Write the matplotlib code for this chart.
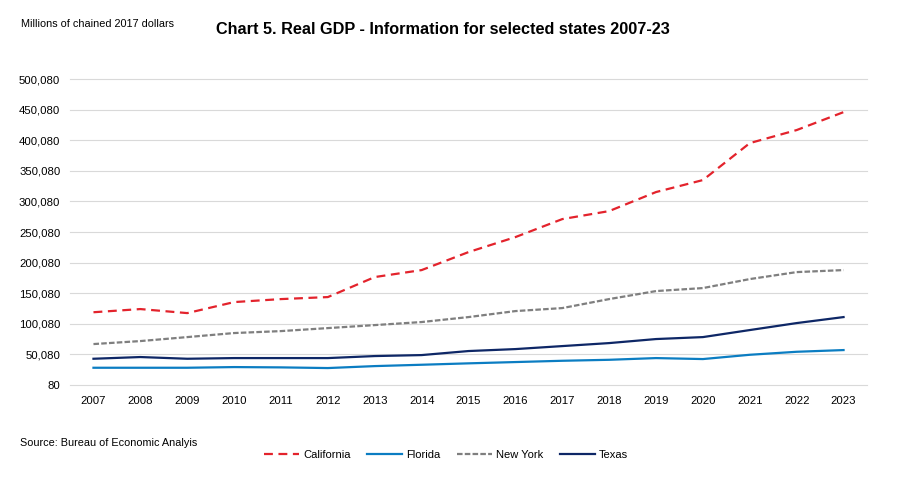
import matplotlib
matplotlib.use('Agg')
import matplotlib.pyplot as plt
import numpy as np

years = list(range(2007, 2024))
california = [119000, 124200, 117600, 135600, 140500, 143800, 176500, 187900, 217300,
              241800, 271200, 284300, 315400, 335000, 395400, 416700, 446000]
florida = [28300, 28300, 28300, 29400, 28900, 27800, 31000, 33200, 35500,
           37600, 39700, 41300, 44100, 42500, 49500, 54400, 57200]
new_york = [67000, 71900, 78400, 85000, 88200, 93100, 98000, 103000, 111100,
            120900, 125800, 140500, 153600, 158500, 173200, 184600, 187900]
texas = [43000, 45800, 43000, 44100, 44100, 44100, 47400, 49000, 55600,
         58800, 63700, 68600, 75200, 78400, 89900, 101300, 111100]
y_ticks = list(range(80, 500081, 50000))

plt.rcParams['font.family'] = ['Liberation Sans', 'DejaVu Sans']

fig = plt.figure(figsize=(8.99, 4.79), dpi=100)
ax = fig.add_axes([0.0779, 0.1962, 0.8865, 0.6388])

ax.plot(years, california, color='#E3232C', lw=1.6, dashes=(4, 2.5), label='California')
ax.plot(years, florida, color='#0B7DC2', lw=1.6, label='Florida')
ax.plot(years, new_york, color='#7F7F7F', lw=1.6, dashes=(2.5, 1), label='New York')
ax.plot(years, texas, color='#0E2766', lw=1.6, label='Texas')

ax.set_xlim(2006.5, 2023.5)
ax.set_ylim(80, 500080)
ax.set_xticks(years)
ax.set_yticks(y_ticks)
ax.set_yticklabels([f'{v:,}' for v in y_ticks])
ax.tick_params(length=0, labelsize=8.2)
ax.tick_params(axis='y', pad=7)
ax.tick_params(axis='x', pad=8)
ax.grid(axis='y', color='#D9D9D9', lw=0.8)
for gl in ax.get_ygridlines():
    gl.set_clip_on(False)
ax.set_axisbelow(True)
for s in ax.spines.values():
    s.set_visible(False)

fig.text(0.023, 0.95, 'Millions of chained 2017 dollars', fontsize=7.8, va='center')
fig.text(0.493, 0.938, 'Chart 5. Real GDP - Information for selected states 2007-23',
         fontsize=11.7, fontweight='bold', ha='center', va='center')
fig.text(0.022, 0.075, 'Source: Bureau of Economic Analyis', fontsize=7.8, va='center')

fig.legend(loc='center', bbox_to_anchor=(0.496, 0.05), ncol=4, frameon=False,
           fontsize=8, handlelength=3.15, columnspacing=1.5, handletextpad=0.35)

fig.savefig('out.png', dpi=100)
